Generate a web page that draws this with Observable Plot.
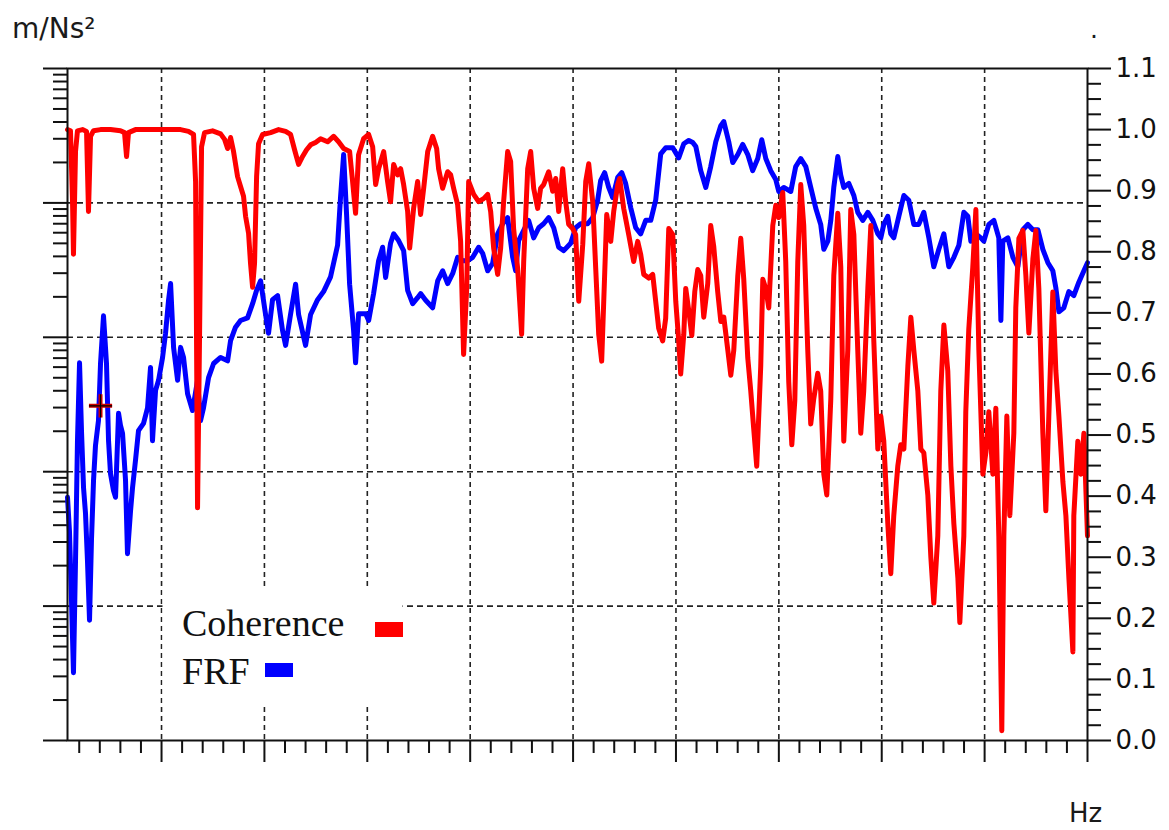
<!DOCTYPE html>
<html><head><meta charset="utf-8">
<script src="https://cdn.jsdelivr.net/npm/d3@7"></script>
<script src="https://cdn.jsdelivr.net/npm/@observablehq/plot@0.6"></script>
<style>
body{margin:0;background:#fff;}
#wrap{position:relative;width:1169px;height:830px;overflow:hidden;background:#fff;}
</style></head><body><div id="wrap"></div>
<script>
// Coherence (right axis, 0..1.1)
const coherenceFreq = [8.6,11.5,13.5,14.4,16.4,18.3,23.2,27.1,29.0,31.0,33.9,40.7,50.4,60.1,64.0,66.0,67.9,74.7,89.3,103.9,118.5,126.2,131.1,133.1,135.0,137.0,138.9,141.8,149.6,157.4,161.3,164.2,167.1,170.0,173.9,176.8,179.7,181.7,184.6,186.5,188.5,190.4,192.4,194.3,198.2,206.0,213.8,220.6,225.4,229.3,233.2,237.1,241.0,244.9,249.7,254.6,261.4,267.2,272.1,277.0,282.8,285.7,288.6,291.5,296.4,301.3,305.2,308.1,311.0,315.9,319.7,322.6,325.6,329.5,332.4,335.3,339.2,341.2,345.0,348.9,351.8,354.8,358.7,363.5,367.4,369.3,373.2,378.1,381.0,383.9,387.8,390.7,393.6,396.6,398.5,403.4,408.2,413.1,417.0,419.9,422.8,426.7,429.6,432.5,436.4,439.3,442.2,446.1,448.1,450.0,452.0,455.9,458.8,461.7,465.6,468.5,471.4,476.3,480.2,483.1,486.0,489.9,492.8,495.7,499.6,502.5,505.5,509.4,512.3,515.2,519.1,522.0,524.9,527.8,529.8,532.7,536.6,539.5,543.4,545.3,549.2,554.1,558.9,562.8,565.7,568.7,573.5,577.4,580.3,583.2,587.1,590.0,593.0,596.9,599.8,602.7,604.6,607.6,609.5,612.5,615.4,618.3,621.2,624.1,627.0,630.9,633.8,636.7,640.6,643.6,646.5,650.4,653.3,656.2,660.1,663.0,665.9,669.8,672.7,675.6,678.5,682.4,684.4,687.3,690.2,694.1,697.0,699.9,703.8,706.7,709.6,712.6,715.5,718.4,721.3,724.2,728.1,731.0,733.9,737.8,740.7,743.7,746.6,750.5,753.4,757.3,760.2,763.1,767.0,769.9,772.9,776.7,779.6,782.5,786.5,789.4,792.3,796.2,799.1,802.0,805.9,808.8,811.7,815.6,818.5,821.5,825.4,828.3,831.2,835.1,838.0,840.9,844.8,847.7,850.6,854.5,857.4,860.4,864.2,867.2,870.1,874.0,875.9,879.8,881.7,884.6,888.5,891.5,894.4,898.3,901.2,904.1,908.0,910.9,913.8,916.7,918.7,921.6,924.5,928.4,930.3,933.3,937.2,940.1,943.0,946.9,949.8,952.7,956.6,959.5,962.4,966.3,969.2,972.2,976.1,979.0,981.9,985.8,986.7,990.6,993.5,996.5,1000];
const coherence = [1.000,0.998,0.882,0.796,0.964,0.998,1.000,0.997,0.866,0.989,0.998,1.000,1.000,0.998,0.995,0.956,0.995,1.000,1.000,1.000,1.000,0.997,0.992,0.915,0.381,0.670,0.972,0.995,0.998,0.993,0.984,0.969,0.987,0.964,0.923,0.907,0.891,0.858,0.830,0.781,0.742,0.781,0.923,0.977,0.992,0.995,1.000,0.997,0.992,0.967,0.943,0.956,0.967,0.975,0.979,0.985,0.980,0.989,0.980,0.969,0.964,0.915,0.863,0.959,0.985,0.992,0.972,0.910,0.936,0.964,0.915,0.882,0.943,0.926,0.936,0.910,0.866,0.806,0.871,0.915,0.861,0.904,0.964,0.989,0.969,0.936,0.904,0.931,0.926,0.904,0.877,0.817,0.632,0.740,0.915,0.894,0.882,0.887,0.894,0.866,0.806,0.763,0.806,0.882,0.964,0.948,0.838,0.773,0.719,0.665,0.784,0.936,0.964,0.904,0.871,0.904,0.910,0.931,0.899,0.920,0.866,0.936,0.882,0.845,0.838,0.828,0.719,0.812,0.915,0.944,0.882,0.773,0.665,0.621,0.719,0.861,0.817,0.866,0.910,0.920,0.871,0.828,0.784,0.817,0.796,0.763,0.757,0.763,0.719,0.675,0.654,0.691,0.838,0.828,0.719,0.654,0.600,0.665,0.740,0.703,0.663,0.735,0.771,0.761,0.693,0.748,0.843,0.809,0.734,0.686,0.693,0.639,0.598,0.639,0.761,0.822,0.755,0.626,0.572,0.510,0.449,0.613,0.755,0.740,0.708,0.843,0.876,0.856,0.897,0.784,0.588,0.484,0.556,0.784,0.910,0.843,0.639,0.518,0.559,0.601,0.572,0.436,0.402,0.559,0.761,0.863,0.775,0.490,0.639,0.869,0.828,0.639,0.503,0.572,0.740,0.843,0.654,0.477,0.531,0.490,0.355,0.273,0.368,0.449,0.484,0.477,0.613,0.693,0.639,0.572,0.477,0.471,0.402,0.301,0.225,0.335,0.572,0.680,0.605,0.449,0.355,0.266,0.193,0.335,0.538,0.673,0.775,0.869,0.639,0.436,0.471,0.538,0.436,0.544,0.335,0.016,0.335,0.531,0.368,0.503,0.708,0.822,0.835,0.761,0.667,0.788,0.835,0.740,0.503,0.376,0.531,0.734,0.606,0.531,0.423,0.368,0.266,0.145,0.368,0.490,0.436,0.503,0.335];

// FRF magnitude (left log axis), stored in dB re 1 m/Ns²
const frfFreq = [8.6,10.5,12.5,14.4,16.4,18.3,20.3,22.2,24.2,26.1,28.0,30.0,31.9,33.9,35.8,38.7,40.7,43.6,46.5,48.5,50.4,53.3,55.3,58.2,60.1,62.1,65.0,66.9,69.9,71.8,74.7,77.6,82.5,86.4,89.3,91.2,94.2,97.1,101.0,103.9,106.8,108.8,111.7,115.6,118.5,121.4,125.3,130.1,135.0,137.9,140.8,145.7,150.6,157.4,164.2,167.1,171.9,176.8,183.6,188.5,192.4,196.3,201.1,204.0,207.9,212.8,217.6,220.6,225.4,230.3,233.2,240.0,244.9,251.7,257.5,264.3,271.1,274.0,277.0,279.9,282.8,286.7,288.6,291.5,298.4,301.3,306.1,311.0,314.9,317.8,322.6,325.6,330.4,335.3,339.2,344.1,348.9,351.8,356.7,363.5,368.4,373.2,378.1,383.0,387.8,392.7,397.5,402.4,408.2,412.1,417.0,421.8,426.7,431.6,436.4,441.3,444.2,447.1,452.0,456.8,461.7,466.6,471.4,476.3,481.2,486.0,490.9,497.7,502.5,507.4,514.2,519.1,523.9,526.8,530.7,534.6,538.5,543.4,547.3,551.1,556.0,560.9,565.7,570.6,575.5,580.3,585.2,590.0,596.9,602.7,607.6,612.5,616.3,619.3,624.1,629.0,633.8,638.7,643.6,646.5,651.3,655.2,660.1,664.9,669.8,674.6,679.5,683.4,687.3,692.1,697.0,699.9,704.8,711.6,716.4,721.3,726.2,731.0,735.9,740.7,743.7,747.6,750.5,753.4,757.3,760.2,763.1,768.0,772.9,776.7,781.6,786.5,791.3,796.2,799.1,802.0,805.9,808.8,811.7,816.6,821.5,826.3,831.2,836.0,840.9,845.8,850.6,855.5,860.4,865.2,870.1,875.0,879.8,883.7,886.6,891.5,896.3,899.2,904.1,909.0,913.8,915.8,917.7,922.6,927.5,932.3,937.2,942.0,946.9,951.8,956.6,961.5,966.3,969.2,972.2,977.0,981.9,986.7,991.6,996.5,1000];
const frfDb = [-23.8,-28.8,-39.2,-49.9,-33.2,-15.4,-3.8,-13.9,-22.4,-26.2,-33.2,-42.1,-30.2,-21.3,-16.1,-12.4,-3.9,3.2,-3.9,-15.4,-20.3,-22.8,-23.8,-11.3,-13.1,-14.3,-21.3,-32.2,-25.8,-22.4,-18.3,-13.9,-12.8,-10.5,-4.5,-15.4,-7.9,-6.4,-3.0,0.6,5.5,8.0,-1.5,-6.4,-1.5,-3.0,-8.4,-10.9,-6.4,-12.4,-10.5,-6.0,-3.9,-3.0,-3.5,-0.5,1.5,2.5,2.9,5.0,7.0,8.4,3.4,0.6,5.6,6.2,1.0,-1.2,3.4,7.9,3.4,-1.2,3.4,5.6,6.8,9.0,13.7,20.9,27.2,18.1,7.9,1.0,-3.8,3.5,3.5,2.5,6.5,11.4,13.4,8.9,14.0,15.4,14.4,12.9,7.0,5.0,5.9,6.5,5.5,4.4,8.4,9.9,8.0,9.5,11.9,11.4,11.4,11.9,13.4,12.5,9.9,11.0,15.4,16.9,17.8,11.9,9.9,14.4,15.9,17.4,14.8,16.3,16.9,17.8,16.3,13.4,12.9,14.0,16.3,16.9,16.9,17.8,20.4,23.3,24.5,22.3,20.8,23.8,24.5,22.9,19.3,16.3,15.4,17.4,17.4,20.4,27.3,28.2,28.2,26.7,28.8,29.3,29.0,28.4,24.8,22.3,25.4,29.1,31.5,32.1,29.1,26.0,27.2,28.7,27.2,24.8,26.6,29.4,26.6,24.8,23.5,21.7,22.3,21.7,25.4,26.6,25.4,22.3,19.2,16.8,13.1,14.3,17.4,22.3,26.9,24.1,22.3,22.9,21.1,18.6,17.4,18.6,17.4,15.4,14.8,16.8,18.0,15.4,14.8,18.0,21.1,20.4,16.8,16.8,18.6,14.8,10.5,13.1,15.4,10.5,11.9,13.7,18.6,18.0,14.3,15.4,14.8,14.3,16.8,17.4,14.8,2.5,14.3,14.8,11.9,10.5,16.0,16.8,16.0,16.0,13.1,11.1,9.9,7.4,3.8,4.4,6.8,6.2,8.2,9.9,11.1];

// cursor marker on FRF
const cursorFreq = [40.7];
const cursorDb = [-10.2];

// axis tick values
const xMajor = [100,200,300,400,500,600,700,800,900,1000];
const decades = [0.001,0.01,0.1,1,10,100];
const cohTicks = [0,0.1,0.2,0.3,0.4,0.5,0.6,0.7,0.8,0.9,1.0,1.1];
const legendLabels = ["Coherence","FRF"];

const W = 1169, H = 830;
const M = {top: 68, right: 82, bottom: 90, left: 67};
const xDomain = [8.6, 1000];

const xMinor = d3.range(20, 1000, 20).filter(v => v % 100 !== 0);
const logMinor = [];
for (const p of [0.001, 0.01, 0.1, 1, 10]) for (let k = 2; k < 10; k++) logMinor.push(+(k * p).toPrecision(2));
const cohMinor = d3.range(0, 1.1, 0.025).map(v => +v.toFixed(3)).filter(v => Math.abs(v * 10 - Math.round(v * 10)) > 1e-6);

const frf = frfFreq.map((f, i) => ({f, v: Math.pow(10, frfDb[i] / 20)}));
const coh = coherenceFreq.map((f, i) => ({f, c: coherence[i]}));
const cursor = cursorFreq.map((f, i) => ({f, v: Math.pow(10, cursorDb[i] / 20)}));

const svgStyle = {position: "absolute", left: "0px", top: "0px", background: "none", overflow: "visible", fontFamily: "DejaVu Sans"};
const ink = "#111";

// back plot: FRF (log y, left)
const back = Plot.plot({
  width: W, height: H,
  marginTop: M.top, marginRight: M.right, marginBottom: M.bottom, marginLeft: M.left,
  style: svgStyle,
  x: {domain: xDomain, axis: null},
  y: {type: "log", domain: [0.001, 100], axis: null},
  marks: [
    Plot.gridX(xMajor.slice(0, -1), {stroke: "#222", strokeOpacity: 1, strokeWidth: 1.6, strokeDasharray: "5,4"}),
    Plot.gridY(decades.slice(1, -1), {stroke: "#222", strokeOpacity: 1, strokeWidth: 1.6, strokeDasharray: "6,4"}),
    Plot.axisY(decades, {anchor: "left", tickSize: 24, tickFormat: () => "", label: null, stroke: ink, strokeWidth: 2}),
    Plot.axisY(logMinor, {anchor: "left", tickSize: 14, tickFormat: () => "", label: null, stroke: ink, strokeWidth: 2}),
    Plot.line(frf, {x: "f", y: "v", stroke: "#0000ff", strokeWidth: 5, strokeLinejoin: "round"})
  ]
});

// front plot: coherence (linear y, right)
const front = Plot.plot({
  width: W, height: H,
  marginTop: M.top, marginRight: M.right, marginBottom: M.bottom, marginLeft: M.left,
  style: svgStyle,
  x: {domain: xDomain, axis: null},
  y: {domain: [0, 1.1], axis: null},
  marks: [
    Plot.line(coh, {x: "f", y: "c", stroke: "#ff0000", strokeWidth: 5, strokeLinejoin: "round"}),
    Plot.frame({stroke: ink, strokeWidth: 2}),
    Plot.axisY(cohTicks, {anchor: "right", tickSize: 23, tickPadding: 5, tickFormat: d => d.toFixed(1), label: null, stroke: ink, strokeWidth: 2, fontSize: 26, fontFamily: "DejaVu Sans", fill: "#111"}),
    Plot.axisY(cohMinor, {anchor: "right", tickSize: 13, tickFormat: () => "", label: null, stroke: ink, strokeWidth: 2}),
    Plot.axisX(xMajor, {anchor: "bottom", tickSize: 22, tickFormat: () => "", label: null, stroke: ink, strokeWidth: 2}),
    Plot.axisX(xMinor, {anchor: "bottom", tickSize: 13, tickFormat: () => "", label: null, stroke: ink, strokeWidth: 2})
  ]
});

// cursor marker drawn with the FRF scales
const cursorPlot = Plot.plot({
  width: W, height: H,
  marginTop: M.top, marginRight: M.right, marginBottom: M.bottom, marginLeft: M.left,
  style: svgStyle,
  x: {domain: xDomain, axis: null},
  y: {type: "log", domain: [0.001, 100], axis: null},
  marks: [
    Plot.dot(cursor, {x: "f", y: "v", symbol: "plus", r: 7.5, stroke: "#cc0000", strokeWidth: 4}),
    Plot.dot(cursor, {x: "f", y: "v", symbol: "plus", r: 7.5, stroke: "#000", strokeWidth: 1.2})
  ]
});

const wrap = document.getElementById("wrap");
wrap.appendChild(back);

// legend + unit labels overlay
const ov = d3.create("svg").attr("width", W).attr("height", H)
  .style("position", "absolute").style("left", "0px").style("top", "0px").style("overflow", "visible");
ov.append("rect").attr("x", 162.5).attr("y", 590).attr("width", 240).attr("height", 113).attr("fill", "#fff");
ov.append("text").attr("x", 182).attr("y", 636).attr("font-family", "Liberation Serif").attr("font-size", 38).attr("fill", "#111").text(legendLabels[0]);
ov.append("rect").attr("x", 375).attr("y", 622).attr("width", 28).attr("height", 15).attr("fill", "#ff0000");
ov.append("text").attr("x", 182).attr("y", 684).attr("font-family", "Liberation Serif").attr("font-size", 38).attr("fill", "#111").text(legendLabels[1]);
ov.append("rect").attr("x", 265).attr("y", 663).attr("width", 28).attr("height", 14).attr("fill", "#0000ff");
ov.append("text").attr("x", 12).attr("y", 38).attr("font-family", "DejaVu Sans").attr("font-size", 28).attr("fill", "#1a1a1a").text("m/Ns²");
ov.append("text").attr("x", 1069).attr("y", 822).attr("font-family", "DejaVu Sans").attr("font-size", 26).attr("fill", "#1a1a1a").text("Hz");
ov.append("text").attr("x", 1090).attr("y", 38).attr("font-family", "DejaVu Sans").attr("font-size", 25).attr("fill", "#1a1a1a").text(".");
wrap.appendChild(ov.node());
wrap.appendChild(front);
wrap.appendChild(cursorPlot);
</script>
</body></html>
